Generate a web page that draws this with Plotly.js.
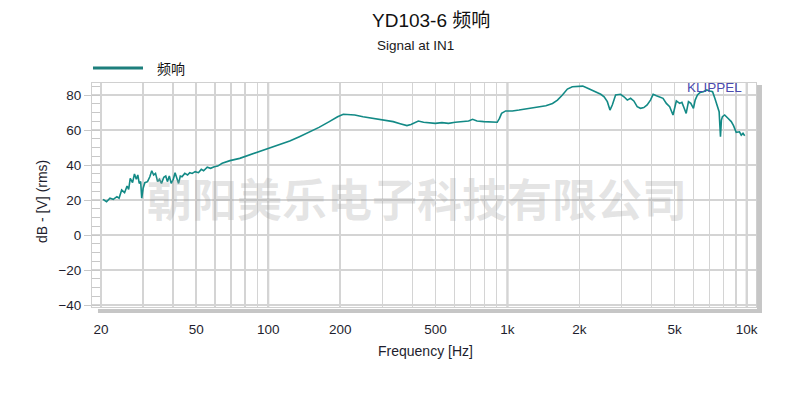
<!DOCTYPE html>
<html>
<head>
<meta charset="utf-8">
<script src="https://cdn.plot.ly/plotly-3.0.1.min.js"></script>
<style>html,body{margin:0;padding:0;background:#fff;}#chart{width:790px;height:393px;}</style>
</head>
<body>
<div id="chart"></div>
<script>
// Frequency response data
var freqHz = [
  20.4, 21.1, 21.8, 22.5, 23.3, 23.8, 24.4, 25.1, 25.7, 26.1,
  26.5, 27.1, 27.6, 28.1, 28.5, 28.9, 29.3, 29.6, 30.0, 30.5,
  31.3, 32.0, 32.6, 33.2, 33.8, 34.5, 35.1, 35.8, 36.6, 37.3,
  37.9, 38.6, 39.3, 40.1, 40.8, 41.7, 42.2, 42.9, 43.6, 44.8,
  46.0, 47.0, 48.1, 49.5, 51.1, 52.5, 53.7, 55.6, 57.4, 59.5,
  61.5, 64.2, 69.2, 76.0, 83.6, 92.0, 101, 111, 123, 135,
  148, 163, 180, 195, 206, 219, 230, 249, 275, 303,
  333, 356, 380, 395, 424, 446, 468, 499, 532, 567,
  605, 645, 688, 715, 746, 796, 850, 906, 926, 945,
  983, 1048, 1118, 1192, 1272, 1357, 1447, 1543, 1618, 1697,
  1780, 1867, 1968, 2064, 2165, 2305, 2455, 2536, 2615, 2682,
  2743, 2832, 2970, 3070, 3170, 3270, 3375, 3485, 3598, 3715,
  3836, 3960, 4064, 4195, 4330, 4470, 4615, 4765, 4920, 4983,
  5080, 5245, 5360, 5480, 5585, 5710, 5840, 5990, 6090, 6225,
  6385, 6590, 6805, 7020, 7200, 7360, 7525, 7670, 7770, 7840,
  7915, 8090, 8350, 8620, 8810, 9040, 9330, 9490, 9650, 9810
];
var splDb = [
  20.4, 19.0, 21.0, 20.4, 21.9, 21.0, 25.7, 24.2, 28.0, 26.1,
  32.4, 29.9, 34.9, 31.8, 34.3, 29.5, 30.5, 21.0, 26.7, 29.9,
  30.5, 33.3, 36.7, 34.3, 35.2, 30.5, 31.8, 29.5, 33.0, 33.7,
  30.5, 33.7, 29.5, 31.8, 35.6, 31.4, 29.5, 33.7, 33.3, 35.2,
  34.3, 35.6, 35.2, 36.2, 35.6, 37.5, 36.7, 38.7, 38.1, 39.0,
  39.4, 41.0, 42.5, 43.8, 45.7, 47.6, 49.5, 51.4, 53.7, 56.2,
  58.7, 61.5, 64.8, 67.6, 69.0, 69.0, 68.6, 67.6, 66.7, 65.7,
  64.8, 63.6, 62.5, 63.2, 65.1, 64.4, 64.2, 63.8, 64.2, 63.8,
  64.4, 64.8, 65.1, 66.1, 65.1, 64.8, 64.4, 64.4, 66.7, 69.5,
  70.9, 70.9, 71.4, 72.0, 72.4, 73.3, 73.9, 75.2, 77.1, 80.0,
  83.4, 84.7, 85.1, 85.1, 83.8, 82.3, 80.4, 79.0, 76.2, 71.4,
  74.3, 80.0, 80.4, 79.0, 77.1, 78.1, 76.6, 73.3, 72.4, 72.8,
  74.3, 77.1, 80.4, 79.6, 79.0, 78.1, 75.2, 73.3, 68.6, 72.4,
  76.6, 75.2, 75.8, 72.4, 69.5, 76.2, 75.2, 72.4, 77.1, 80.0,
  81.5, 81.9, 82.9, 82.3, 81.9, 78.1, 74.3, 70.5, 56.2, 65.7,
  67.6, 68.6, 66.7, 64.8, 62.5, 58.7, 59.0, 57.1, 58.1, 56.7
];

var xTickVals = [20, 50, 100, 200, 500, 1000, 2000, 5000, 10000];
var xTickText = ['20', '50', '100', '200', '500', '1k', '2k', '5k', '10k'];
var xMinorVals = [30, 40, 60, 70, 80, 90, 300, 400, 600, 700, 800, 900, 3000, 4000, 6000, 7000, 8000, 9000];
var decadeVals = [100, 1000, 10000];
var yTickVals = [-40, -20, 0, 20, 40, 60, 80];

var seriesName = '频响';
var titleText = 'YD103-6 频响';
var subtitleText = 'Signal at IN1';
var xTitle = 'Frequency [Hz]';
var yTitle = 'dB - [V] (rms)';
var watermark = '朝阳美乐电子科技有限公司';
var brand = 'KLIPPEL';

var lineColor = '#138a86';
var textColor = '#1e1e2e';
var gridColor = '#d4d4d4';
var FONT = 'Liberation Sans, Arial, Noto Sans CJK SC, sans-serif';

var trace = {
  x: freqHz, y: splDb, type: 'scatter', mode: 'lines', name: seriesName,
  line: {color: lineColor, width: 1.6}, showlegend: false, hoverinfo: 'x+y'
};

var shapes = decadeVals.map(function (v) {
  return {type: 'line', xref: 'x', yref: 'paper', x0: v, x1: v, y0: 0, y1: 1,
          line: {color: '#c2c2c2', width: 2}, layer: 'between'};
});
// drop-shadow frame (bottom and right)
shapes.push({type: 'rect', xref: 'paper', yref: 'paper', x0: 0.009, x1: 1.009, y0: -0.0089, y1: -0.0268,
             fillcolor: '#c6c6c6', line: {width: 0}});
shapes.push({type: 'rect', xref: 'paper', yref: 'paper', x0: 1.0015, x1: 1.009, y0: 0.991, y1: -0.0268,
             fillcolor: '#c6c6c6', line: {width: 0}});
// legend sample line
shapes.push({type: 'line', xref: 'paper', yref: 'paper', x0: 0.0015, x1: 0.0768, y0: 1.067, y1: 1.067,
             line: {color: '#1d7f7c', width: 3}});

var layout = {
  width: 790, height: 393,
  margin: {l: 92, r: 34, t: 83, b: 86, pad: 0},
  paper_bgcolor: '#ffffff', plot_bgcolor: '#ffffff',
  font: {family: FONT, color: textColor, size: 13},
  showlegend: false,
  title: {
    text: titleText, xref: 'container', yref: 'container', x: 0.4709, xanchor: 'left',
    y: 0.949, yanchor: 'middle', font: {family: FONT, size: 19, color: '#111111'}
  },
  xaxis: {
    type: 'log', range: [1.26342, 4.0389],
    tickmode: 'array', tickvals: xTickVals, ticktext: xTickText,
    ticks: '', ticklabelstandoff: 10,
    tickfont: {size: 13.5, color: textColor},
    showgrid: true, gridcolor: gridColor, gridwidth: 1.5,
    minor: {tickmode: 'array', tickvals: xMinorVals, showgrid: true, gridcolor: gridColor, gridwidth: 1.5, ticks: ''},
    showline: true, linecolor: '#d0d0d0', linewidth: 1, mirror: true,
    zeroline: false, fixedrange: true
  },
  yaxis: {
    range: [-41.14, 86.86],
    tickmode: 'array', tickvals: yTickVals,
    ticks: 'outside', ticklen: 7, tickcolor: '#c8c8c8', tickwidth: 1,
    tickfont: {size: 13.5, color: textColor},
    showgrid: true, gridcolor: gridColor, gridwidth: 1.5,
    minor: {dtick: 5, tick0: 0, ticks: 'inside', ticklen: 8, tickcolor: '#c8c8c8', tickwidth: 1, showgrid: false},
    showline: true, linecolor: '#cfcfcf', linewidth: 1, mirror: true,
    zeroline: false, fixedrange: true
  },
  shapes: shapes,
  annotations: [
    {text: subtitleText, xref: 'paper', yref: 'paper', x: 0.426, y: 1.1696, xanchor: 'left', yanchor: 'middle',
     showarrow: false, font: {family: FONT, size: 13.5, color: '#1a1a1a'}},
    {text: seriesName, xref: 'paper', yref: 'paper', x: 0.0949, y: 1.067, xanchor: 'left', yanchor: 'middle',
     showarrow: false, font: {family: 'Noto Sans CJK SC, sans-serif', size: 14, color: '#111111'}},
    {text: xTitle, xref: 'paper', yref: 'paper', x: 0.503, y: -0.196, xanchor: 'center', yanchor: 'middle',
     showarrow: false, font: {family: FONT, size: 14, color: textColor}},
    {text: yTitle, xref: 'paper', yref: 'paper', x: -0.0753, y: 0.469, xanchor: 'center', yanchor: 'middle',
     textangle: -90, showarrow: false, font: {family: FONT, size: 14, color: textColor}},
    {text: brand, xref: 'paper', yref: 'paper', x: 0.982, y: 0.978, xanchor: 'right', yanchor: 'middle',
     showarrow: false, font: {family: FONT, size: 13.5, color: '#4b4bb0'}},
    {text: '<b>' + watermark + '</b>', xref: 'paper', yref: 'paper', x: 0.49, y: 0.49, xanchor: 'center', yanchor: 'middle',
     showarrow: false, font: {family: 'Noto Sans CJK SC, sans-serif', size: 45, color: 'rgba(160,160,160,0.28)'}}
  ]
};

Plotly.newPlot('chart', [trace], layout, {staticPlot: true, displayModeBar: false});
</script>
</body>
</html>
